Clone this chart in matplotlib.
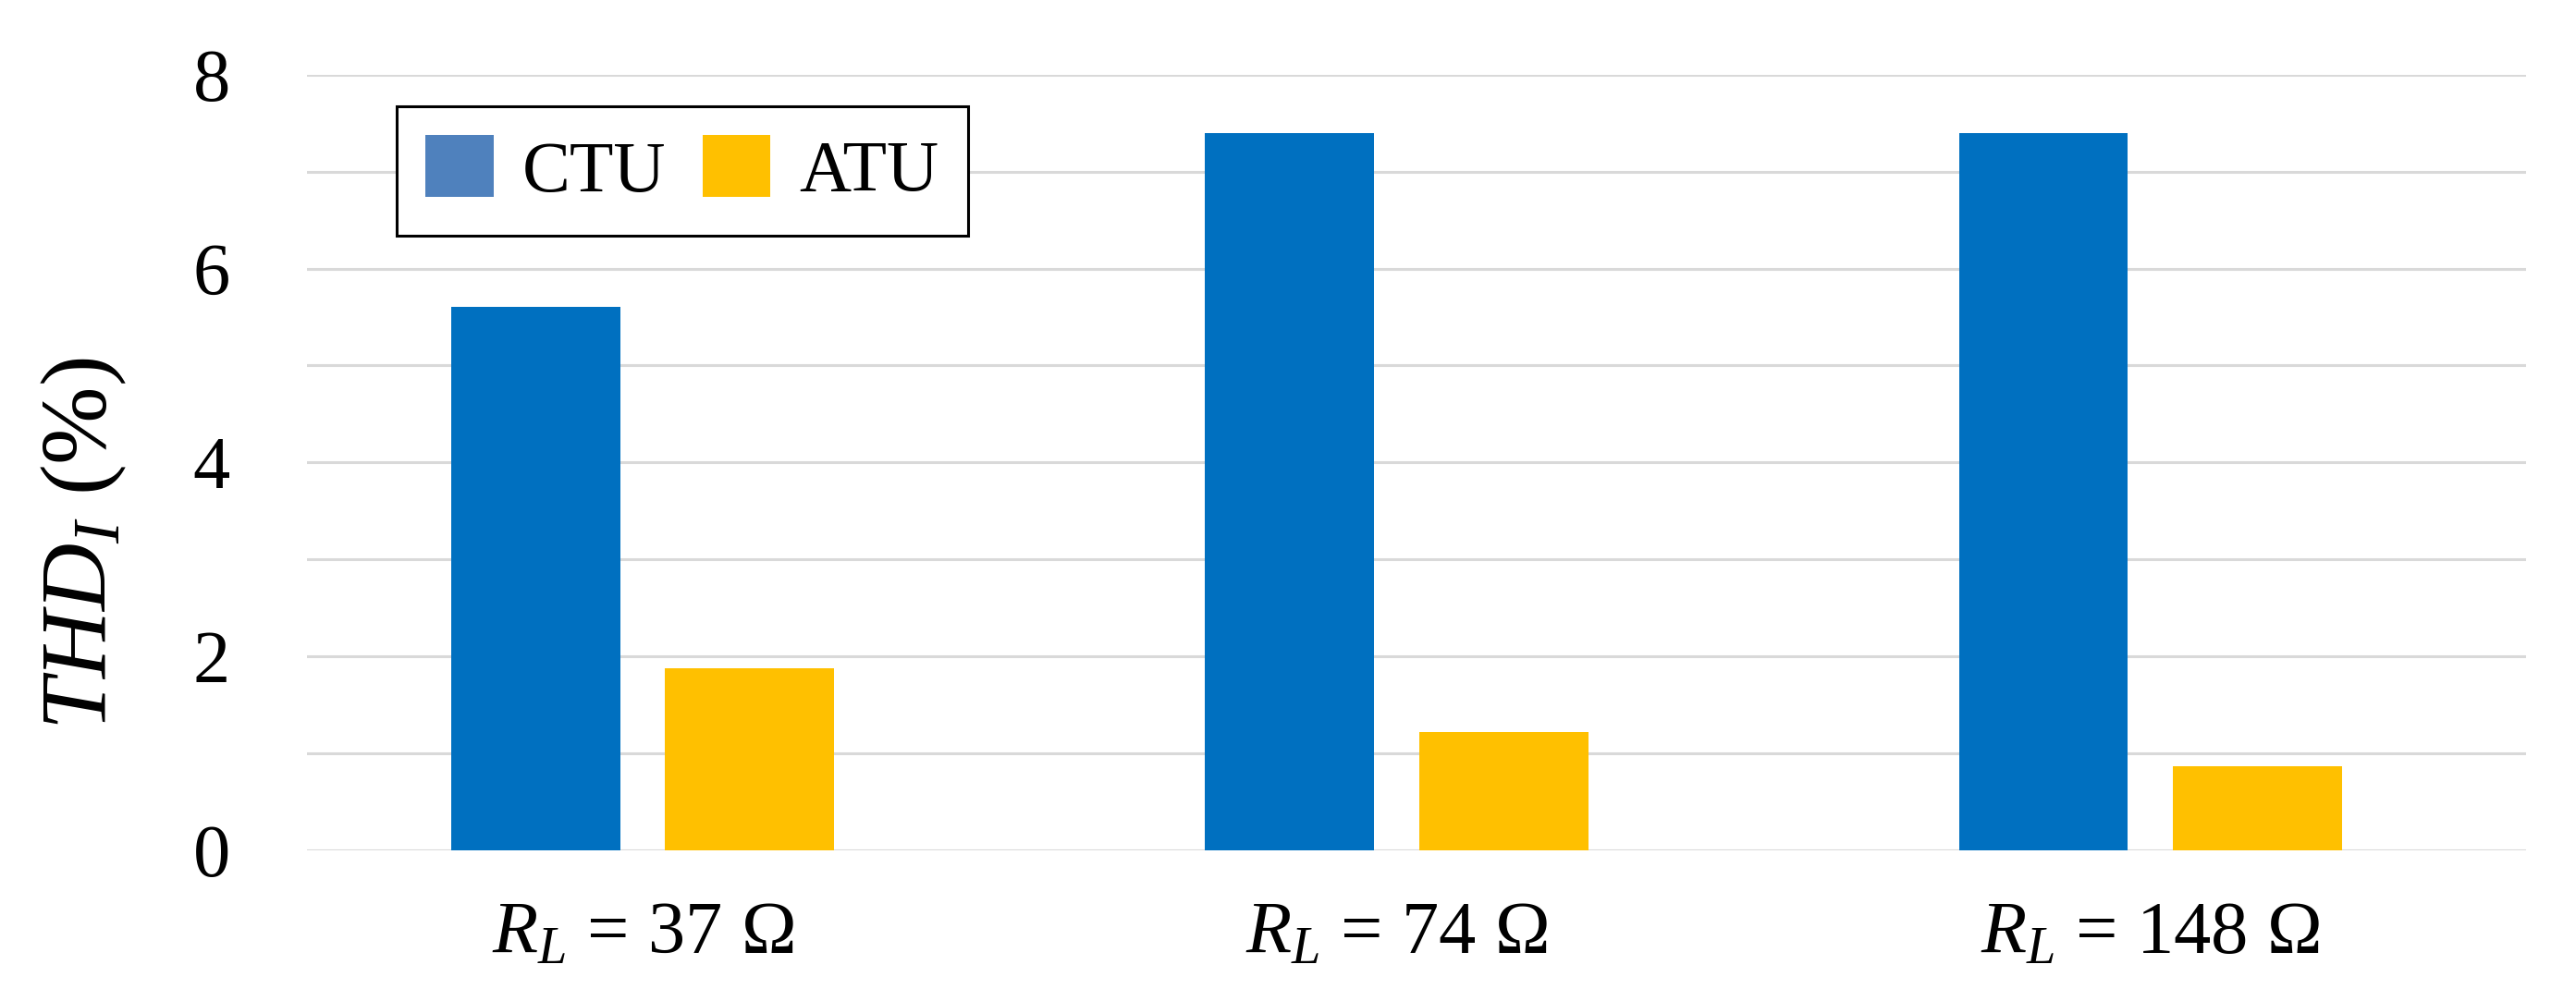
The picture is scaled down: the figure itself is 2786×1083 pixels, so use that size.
import numpy as np
import matplotlib
matplotlib.use('Agg')
import matplotlib.pyplot as plt
from matplotlib.patches import Patch

plt.rcParams['font.family'] = ['Liberation Serif', 'DejaVu Serif']
plt.rcParams['mathtext.fontset'] = 'custom'
plt.rcParams['mathtext.rm'] = 'Liberation Serif'
plt.rcParams['mathtext.it'] = 'Liberation Serif:italic'
plt.rcParams['mathtext.bf'] = 'Liberation Serif:bold'

# data
categories = [r'$R_L$ = 37 $\Omega$', r'$R_L$ = 74 $\Omega$', r'$R_L$ = 148 $\Omega$']
ctu = [5.60, 7.40, 7.40]
atu = [1.88, 1.22, 0.87]
series_names = ['CTU', 'ATU']

blue = '#0070C0'
blue_legend = '#4F81BD'
yellow = '#FFC000'
grid_col = '#D9D9D9'

fig = plt.figure(figsize=(27.86, 10.83), dpi=100)
ax = fig.add_axes([0.1192, 0.1505, 0.8614, 0.775])

x = np.arange(len(categories))
w = 0.224
ax.bar(x - 0.142, ctu, width=w, color=blue, zorder=3)
ax.bar(x + 0.142, atu, width=w, color=yellow, zorder=3)

ax.set_xlim(-0.445, 2.498)
ax.set_ylim(0, 8)
ax.set_yticks([0, 2, 4, 6, 8])
ax.set_yticks([1, 3, 5, 7], minor=True)
ax.grid(axis='y', which='both', color=grid_col, linewidth=2.2, zorder=0)
ax.set_axisbelow(True)
for s in ax.spines.values():
    s.set_visible(False)

ax.set_xticks(x)
ax.set_xticklabels(categories, fontsize=58)
ax.tick_params(axis='x', length=0, pad=40)
ax.tick_params(axis='y', which='both', length=0, pad=60, labelsize=58)

fig.text(0.0327, 0.457, r'$THD_I$ (%)', rotation=90, ha='center', va='center', fontsize=73)

handles = [Patch(facecolor=blue_legend), Patch(facecolor=yellow)]
leg = ax.legend(handles, series_names, loc='upper left', bbox_to_anchor=(0.0404, 0.959),
                ncol=2, fontsize=56, handlelength=0.95, handleheight=0.95,
                handletextpad=0.4, columnspacing=0.5, borderpad=0.4,
                frameon=True, fancybox=False, framealpha=1, borderaxespad=0)
leg.get_frame().set_edgecolor('black')
leg.get_frame().set_linewidth(2.2)

fig.savefig('out.png', dpi=100)
